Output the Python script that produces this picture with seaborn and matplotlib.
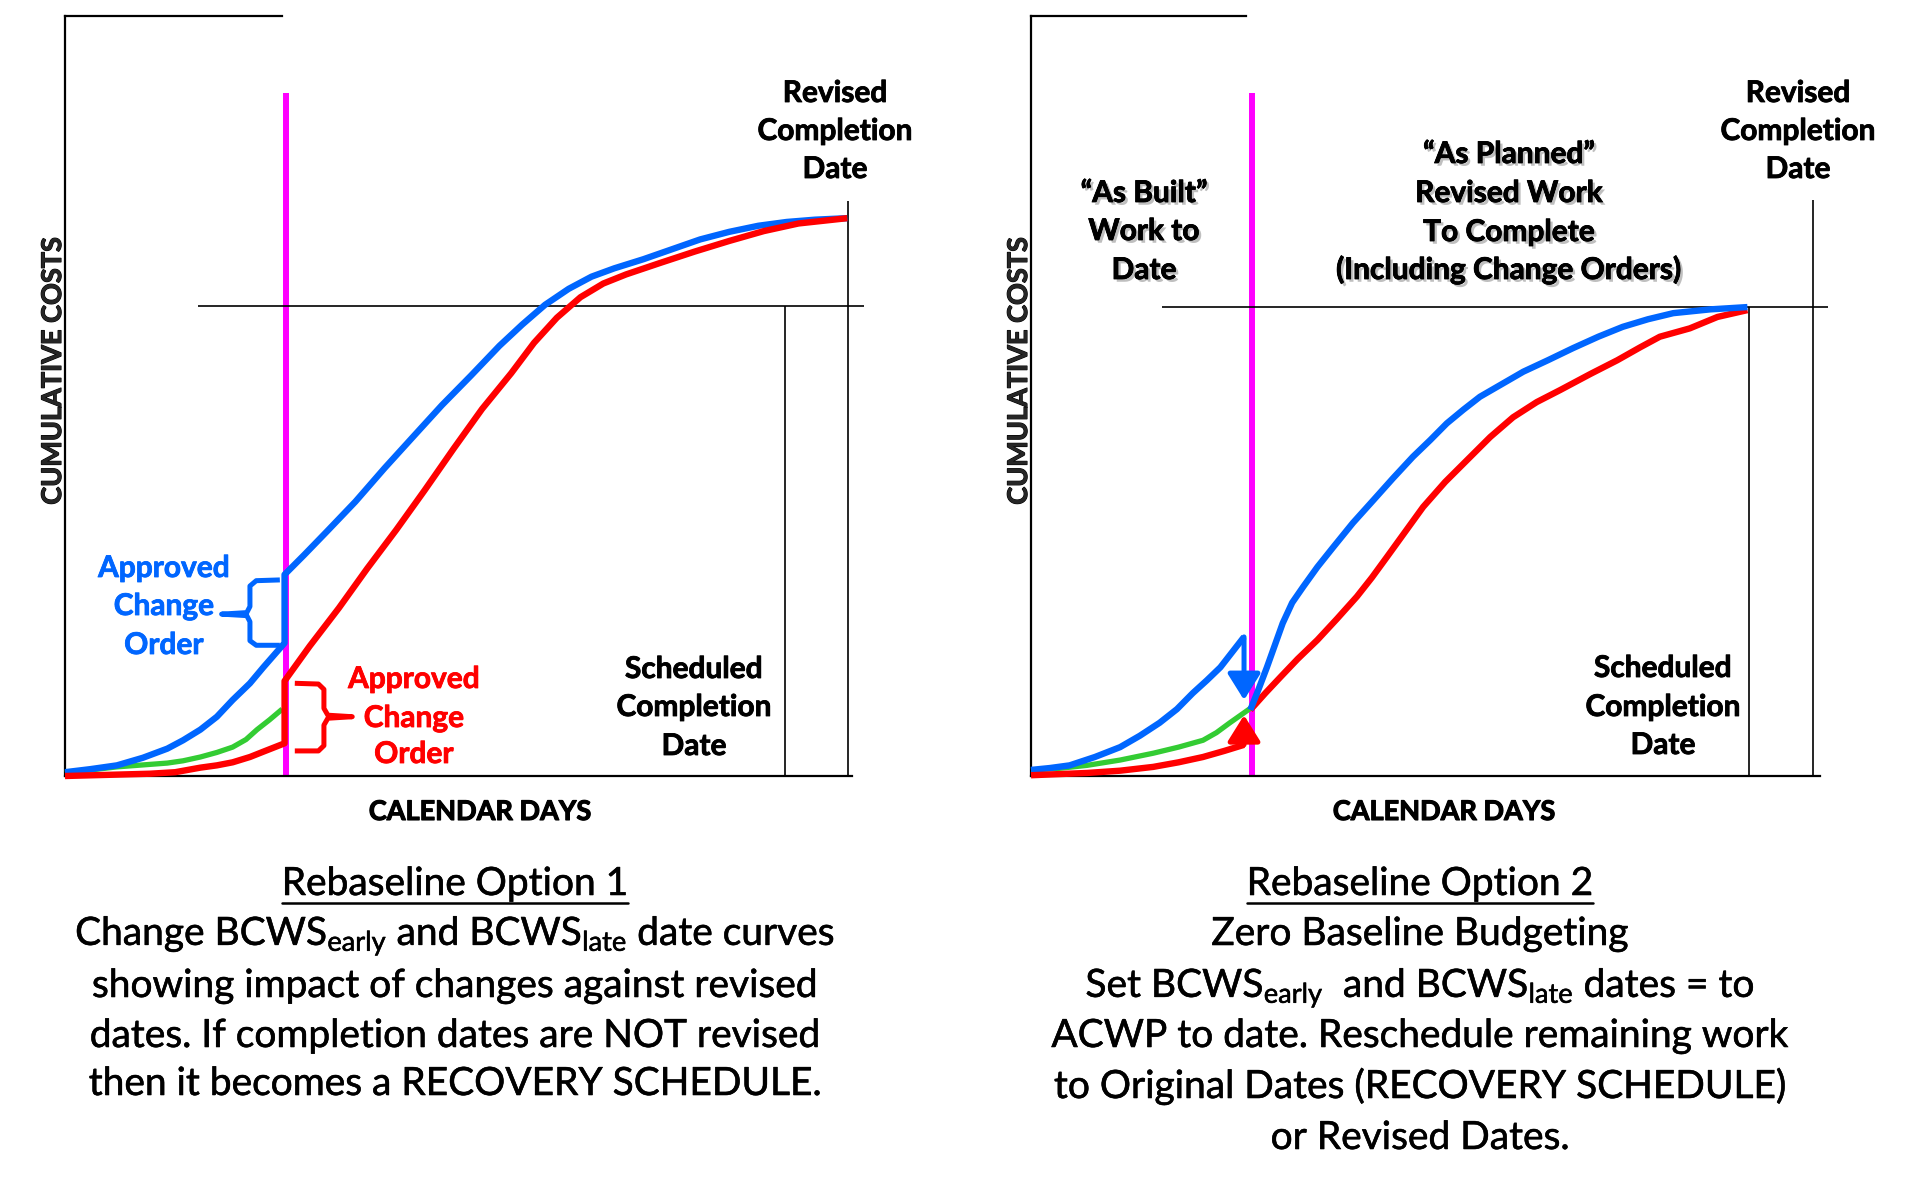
import numpy as np
import matplotlib
matplotlib.use("Agg")
import matplotlib.pyplot as plt
import matplotlib.patheffects as pe
from matplotlib.lines import Line2D
import seaborn as sns

# ---------------- data: calendar days / cumulative cost, in % of each frame ----------------
# Option 1 (curves jump at the change order date)
p1_blue_day = [0, 3.2, 6.6, 9.9, 13.0, 15.0, 17.2, 19.3, 21.3, 23.5, 25.2, 27.9,
               27.9, 30.4, 33.3, 36.9, 40.6, 44.2, 47.9, 51.6, 55.2, 58.1, 61.0, 64.0,
               66.9, 69.8, 73.5, 77.1, 80.7, 84.4, 88.1, 91.7, 95.3, 99.4]
p1_blue_cost = [0.5, 0.9, 1.4, 2.4, 3.6, 4.7, 6.1, 7.8, 10.0, 12.2, 14.3, 17.5,
                26.5, 29.1, 32.2, 36.1, 40.5, 44.6, 48.8, 52.7, 56.6, 59.4, 62.0, 64.1,
                65.7, 66.8, 68.0, 69.3, 70.6, 71.6, 72.4, 72.9, 73.2, 73.4]
p1_red_day = [0, 10.8, 14.0, 17.2, 19.3, 21.3, 23.5, 25.2, 27.9,
              27.9, 31.1, 34.8, 38.4, 42.1, 45.7, 49.4, 53.0, 56.7, 59.6, 62.5, 65.5,
              68.4, 71.3, 75.6, 80.0, 84.4, 88.8, 93.2, 99.4]
p1_red_cost = [0, 0.3, 0.5, 1.1, 1.4, 1.8, 2.5, 3.2, 4.3,
               12.5, 17.1, 22.1, 27.3, 32.4, 37.6, 43.1, 48.3, 53.0, 57.0, 60.3, 63.0,
               64.8, 66.0, 67.5, 69.0, 70.4, 71.7, 72.7, 73.4]
p1_green_day = [0, 6.6, 13.0, 15.0, 17.2, 19.3, 21.3, 23.0, 24.4, 26.0, 27.6]
p1_green_cost = [0.4, 1.2, 1.7, 2.0, 2.5, 3.1, 3.8, 4.8, 6.1, 7.4, 8.8]
p1_blue_brace_day = [27.3, 24.3, 23.5, 23.5, 23.1, 19.9, 23.1, 23.5, 23.5, 24.3, 27.3]
p1_blue_brace_cost = [25.8, 25.7, 25.0, 22.3, 21.5, 21.3, 21.1, 20.3, 17.8, 17.2, 17.2]
p1_red_brace_day = [29.2, 32.2, 32.9, 32.9, 33.4, 36.5, 33.4, 32.9, 32.9, 32.2, 29.2]
p1_red_brace_cost = [12.2, 12.1, 11.4, 8.9, 8.0, 7.8, 7.6, 6.7, 4.0, 3.3, 3.3]
p1_status_day, p1_status_top = 28.1, 89.9
p1_budget, p1_budget_from, p1_budget_to = 61.8, 16.9, 101.5
p1_sched_day, p1_revised_day, p1_revised_top = 91.5, 99.5, 75.7
p1_top_line_end = 27.6

# Option 2 (zero baseline: both curves reset to ACWP at the status date)
p2_blue_before_day = [0, 2.4, 4.9, 8.1, 11.3, 13.8, 16.3, 18.5, 20.5, 22.3, 24.0, 25.5, 27.0]
p2_blue_before_cost = [0.8, 1.05, 1.4, 2.5, 3.8, 5.3, 7.0, 8.8, 10.9, 12.6, 14.3, 16.3, 18.3]
p2_blue_after_day = [27.8, 28.8, 29.9, 30.9, 31.9, 33.1, 34.5, 36.3, 38.3, 40.8, 43.4, 45.9,
                     48.4, 50.6, 52.7, 54.8, 56.9, 59.4, 62.4, 65.5, 68.7, 71.9, 75.0,
                     78.2, 81.4, 86.1, 90.8]
p2_blue_after_cost = [8.7, 11.3, 14.3, 17.2, 20.1, 22.8, 24.9, 27.5, 30.1, 33.3, 36.3, 39.2,
                      42.0, 44.2, 46.4, 48.2, 49.9, 51.4, 53.2, 54.7, 56.3, 57.8, 59.1,
                      60.1, 60.9, 61.4, 61.7]
p2_red_before_day = [0, 7.1, 11.3, 15.5, 18.7, 21.8, 24.5, 27.0]
p2_red_before_cost = [0.1, 0.4, 0.7, 1.2, 1.8, 2.5, 3.3, 4.1]
p2_red_after_day = [27.8, 29.7, 31.6, 33.8, 36.3, 38.8, 41.3, 43.2, 45.1, 47.4, 49.7, 52.5,
                    55.3, 58.2, 61.1, 64.1, 67.1, 70.9, 74.3, 77.2, 79.7, 83.5, 87.0, 90.8]
p2_red_after_cost = [8.7, 10.9, 13.0, 15.4, 17.9, 20.7, 23.6, 26.1, 28.8, 32.1, 35.4, 38.7,
                     41.6, 44.6, 47.2, 49.2, 50.8, 52.9, 54.7, 56.4, 57.8, 58.9, 60.4, 61.3]
p2_green_day = [0, 3.5, 7.1, 11.3, 15.5, 18.7, 21.8, 23.5, 25.2, 27.8]
p2_green_cost = [0.8, 1.0, 1.4, 2.1, 3.0, 3.8, 4.7, 5.7, 7.0, 8.9]
p2_blue_arrow_tip, p2_red_arrow_tip = 10.0, 8.0
p2_status_day, p2_status_top = 28.0, 89.9
p2_budget, p2_budget_from, p2_budget_to = 61.7, 16.6, 101.0
p2_sched_day, p2_revised_day, p2_revised_top = 91.0, 99.1, 75.8
p2_top_line_end = 27.2

BLUE, RED, GREEN, MAGENTA = "#0066FF", "#FF0000", "#33CC33", "#FF00FF"

sns.set_style("white")
plt.rcParams["font.family"] = ["Lato", "DejaVu Sans"]
plt.rcParams["mathtext.fontset"] = "custom"
plt.rcParams["mathtext.rm"] = "Lato"
plt.rcParams["mathtext.it"] = "Lato:italic"
plt.rcParams["mathtext.bf"] = "Lato:bold"

W, H = 1914, 1188
fig = plt.figure(figsize=(W / 100, H / 100), dpi=100)
fig.patch.set_facecolor("white")


def frame(left, right, top_end):
    ax = fig.add_axes([left / W, 1 - 776 / H, (right - left) / W, 760 / H])
    ax.set_xlim(0, 100)
    ax.set_ylim(0, 100)
    ax.set_xticks([])
    ax.set_yticks([])
    ax.patch.set_alpha(0)
    for side in ["left", "bottom", "top"]:
        ax.spines[side].set_color("black")
        ax.spines[side].set_linewidth(1.6)
    ax.spines["right"].set_visible(False)
    ax.spines["top"].set_bounds(0, top_end)
    return ax


def curve(ax, x, y, color, lw=4.6, z=3):
    sns.lineplot(x=x, y=y, ax=ax, color=color, lw=lw, sort=False, estimator=None,
                 solid_capstyle="butt", solid_joinstyle="round", clip_on=False, zorder=z)


def guides(ax, status, status_top, budget, b_from, b_to, sched, revised, rev_top):
    ax.vlines(status, 0, status_top, color=MAGENTA, lw=4.3, zorder=2)
    ax.hlines(budget, b_from, b_to, color="black", lw=1.2, clip_on=False)
    ax.vlines(sched, 0, budget, color="black", lw=1.2)
    ax.vlines(revised, 0, rev_top, color="black", lw=1.2)


def put(x, y, s, size=21.5, weight="bold", color="black", thick=0.6, shadow=False, **kw):
    effects = []
    if shadow:
        effects.append(pe.withSimplePatchShadow(offset=(2, -2), shadow_rgbFace=(0.45, 0.45, 0.45),
                                                alpha=0.45))
    if thick:
        effects.append(pe.withStroke(linewidth=thick, foreground=color))
    else:
        effects.append(pe.Normal())
    return fig.text(x / W, 1 - y / H, s, ha="center", va="baseline", fontsize=size,
                    fontweight=weight, color=color, path_effects=effects, **kw)


def put_lines(x, ys, lines, **kw):
    return [put(x, y, s, **kw) for y, s in zip(ys, lines)]


# ---------------- panel 1 ----------------
ax1 = frame(65, 852, p1_top_line_end)
guides(ax1, p1_status_day, p1_status_top, p1_budget, p1_budget_from, p1_budget_to,
       p1_sched_day, p1_revised_day, p1_revised_top)
curve(ax1, p1_green_day, p1_green_cost, GREEN, lw=3.8, z=3)
curve(ax1, p1_blue_day, p1_blue_cost, BLUE, z=4)
curve(ax1, p1_red_day, p1_red_cost, RED, z=5)
curve(ax1, p1_blue_brace_day, p1_blue_brace_cost, BLUE, lw=3.6, z=4)
curve(ax1, p1_red_brace_day, p1_red_brace_cost, RED, lw=3.6, z=4)

# ---------------- panel 2 ----------------
ax2 = frame(1031, 1820, p2_top_line_end)
guides(ax2, p2_status_day, p2_status_top, p2_budget, p2_budget_from, p2_budget_to,
       p2_sched_day, p2_revised_day, p2_revised_top)
curve(ax2, p2_green_day, p2_green_cost, GREEN, lw=3.8, z=3)
curve(ax2, p2_blue_before_day, p2_blue_before_cost, BLUE, z=4)
curve(ax2, p2_red_before_day, p2_red_before_cost, RED, z=5)
curve(ax2, p2_red_after_day, p2_red_after_cost, RED, z=4)
curve(ax2, p2_blue_after_day, p2_blue_after_cost, BLUE, z=5)
for xs, ys, tip, col in [(p2_blue_before_day, p2_blue_before_cost, p2_blue_arrow_tip, BLUE),
                         (p2_red_before_day, p2_red_before_cost, p2_red_arrow_tip, RED)]:
    ax2.annotate("", xy=(xs[-1], tip), xytext=(xs[-1], ys[-1]), zorder=6,
                 arrowprops=dict(arrowstyle="-|>,head_length=0.8,head_width=0.5",
                                 color=col, lw=3.6, mutation_scale=20,
                                 shrinkA=0, shrinkB=0))

# ---------------- labels ----------------
for cx in (53, 1019):
    fig.text(cx / W, 1 - 371 / H, "CUMULATIVE COSTS", rotation=90, ha="center",
             va="center", fontsize=19.5, fontweight="bold",
             path_effects=[pe.withStroke(linewidth=0.8, foreground="black")])
put(480, 820, "CALENDAR DAYS", size=19.5, thick=0.8)
put(1444, 820, "CALENDAR DAYS", size=19.5, thick=0.8)

put_lines(835, [102, 140, 178], ["Revised", "Completion", "Date"])
put_lines(1798, [102, 140, 178], ["Revised", "Completion", "Date"])
put_lines(694, [678, 716, 755], ["Scheduled", "Completion", "Date"])
put_lines(1663, [677, 716, 754], ["Scheduled", "Completion", "Date"])

put_lines(164, [577, 615, 654], ["Approved", "Change", "Order"], color=BLUE)
put_lines(414, [688, 727, 763], ["Approved", "Change", "Order"], color=RED)

put_lines(1144, [202, 240, 279], ["\u201cAs Built\u201d", "Work to", "Date"], shadow=True)
put_lines(1509, [163, 202, 241, 279],
          ["\u201cAs Planned\u201d", "Revised Work", "To Complete", "(Including Change Orders)"],
          shadow=True)

# ---------------- captions ----------------
cap1 = put_lines(455, [895, 945, 997, 1047, 1095],
                 ["Rebaseline Option 1",
                  r"Change BCWS$_{\mathrm{early}}$ and BCWS$_{\mathrm{late}}$ date curves",
                  "showing impact of changes against revised",
                  "dates. If completion dates are NOT revised",
                  "then it becomes a RECOVERY SCHEDULE."], size=28, weight="normal", thick=0.4)
cap2 = put_lines(1420, [895, 945, 997, 1047, 1098, 1149],
                 ["Rebaseline Option 2",
                  "Zero Baseline Budgeting",
                  r"Set BCWS$_{\mathrm{early}}$  and BCWS$_{\mathrm{late}}$ dates = to",
                  "ACWP to date. Reschedule remaining work",
                  "to Original Dates (RECOVERY SCHEDULE)",
                  "or Revised Dates."], size=28, weight="normal", thick=0.4)

fig.canvas.draw()
renderer = fig.canvas.get_renderer()
for title in (cap1[0], cap2[0]):
    bb = title.get_window_extent(renderer)
    y_line = (H - 903) / H
    fig.add_artist(Line2D([bb.x0 / W, bb.x1 / W], [y_line, y_line], color="black", lw=1.8,
                          transform=fig.transFigure))

fig.savefig("out.png", dpi=100, facecolor="white")
